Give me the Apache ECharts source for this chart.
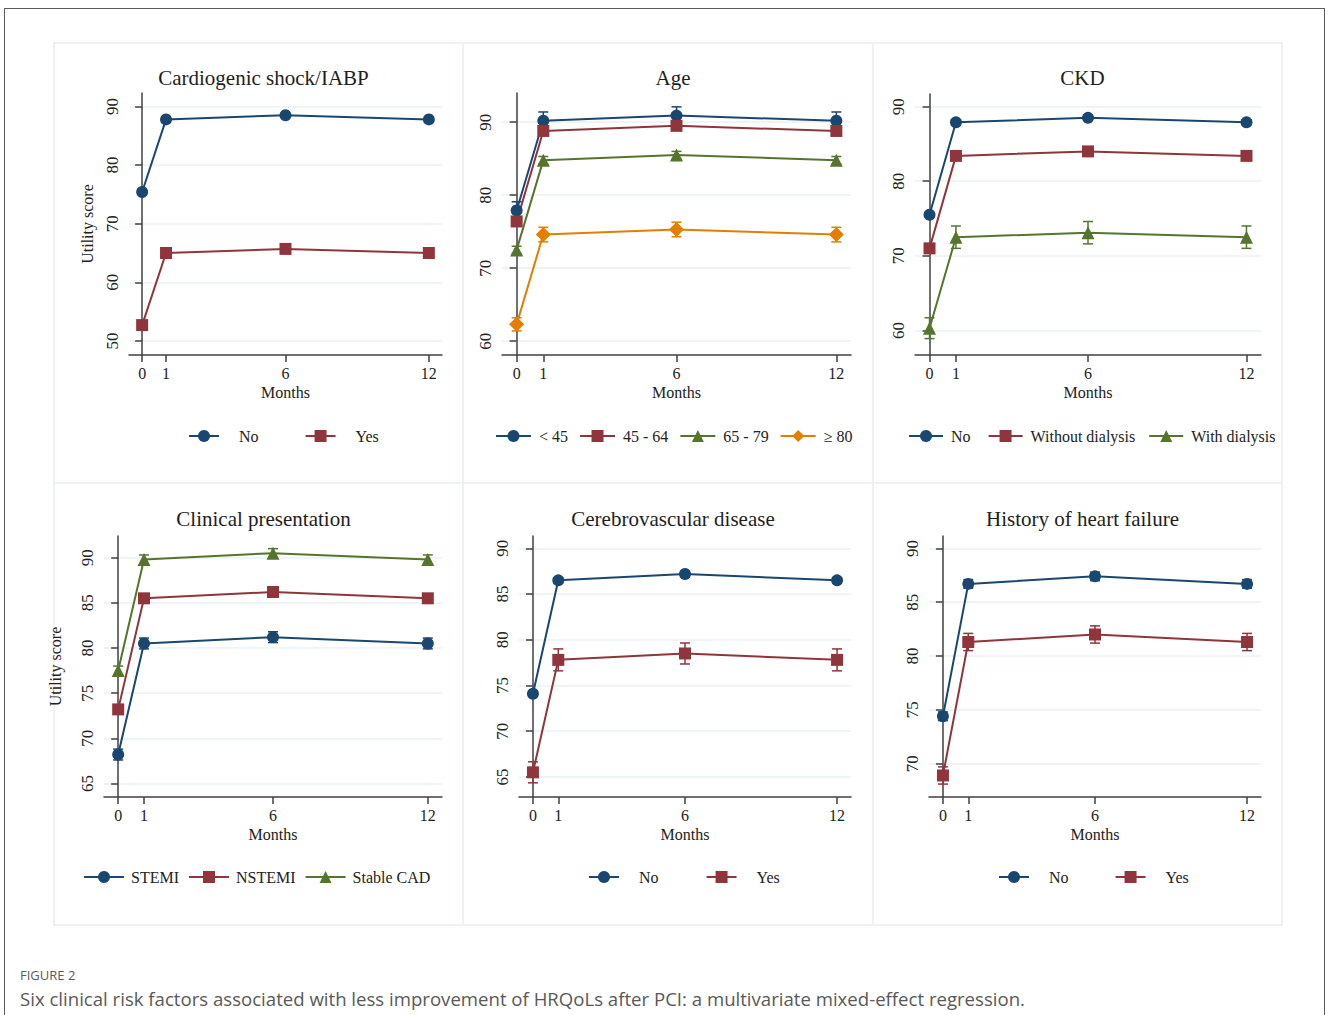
<!DOCTYPE html>
<html>
<head>
<meta charset="utf-8">
<title>Figure 2</title>
<script src="https://cdn.jsdelivr.net/npm/echarts@6/dist/echarts.min.js"></script>
<style>
  html, body { margin: 0; padding: 0; background: #fff; overflow: hidden; }
  #frame { position: absolute; left: 4px; top: 8px; width: 1321px; height: 1100px; border: 1.5px solid #5c5c5c; box-sizing: border-box; }
  #chart { position: absolute; left: 0; top: 0; width: 1328px; height: 940px; }
  #figlabel { position: absolute; left: 20px; top: 966px; font-family: "Open Sans"; font-size: 13px; color: #595959; }
  #caption { position: absolute; left: 20px; top: 986px; font-family: "Open Sans"; font-size: 18.6px; color: #595959; white-space: nowrap; }
</style>
</head>
<body>
<div id="frame"></div>
<div id="chart"></div>
<div id="figlabel">FIGURE 2</div>
<div id="caption">Six clinical risk factors associated with less improvement of HRQoLs after PCI: a multivariate mixed-effect regression.</div>
<script>
// months of follow-up
var months = [0, 1, 6, 12];

// Cardiogenic shock/IABP
var shockNo = [75.4, 87.8, 88.5, 87.8];
var shockNoErr = [0.2, 0.2, 0.2, 0.2];
var shockYes = [52.7, 65.0, 65.7, 65.0];
var shockYesErr = [0.6, 0.6, 0.6, 0.6];

// Age
var age45 = [77.9, 90.2, 90.9, 90.2];
var age45Err = [1.2, 1.2, 1.2, 1.2];
var age4564 = [76.4, 88.8, 89.5, 88.8];
var age4564Err = [0.4, 0.4, 0.4, 0.4];
var age6579 = [72.5, 84.8, 85.5, 84.8];
var age6579Err = [0.5, 0.5, 0.5, 0.5];
var age80 = [62.3, 74.6, 75.3, 74.6];
var age80Err = [0.9, 1.0, 1.0, 1.0];

// CKD
var ckdNo = [75.5, 87.9, 88.5, 87.9];
var ckdNoErr = [0.3, 0.3, 0.3, 0.3];
var ckdWithout = [71.0, 83.4, 84.0, 83.4];
var ckdWithoutErr = [0.4, 0.4, 0.4, 0.4];
var ckdWith = [60.3, 72.5, 73.1, 72.5];
var ckdWithErr = [1.4, 1.5, 1.5, 1.5];

// Clinical presentation
var stemi = [68.2, 80.5, 81.2, 80.5];
var stemiErr = [0.6, 0.6, 0.6, 0.6];
var nstemi = [73.2, 85.5, 86.2, 85.5];
var nstemiErr = [0.4, 0.4, 0.4, 0.4];
var stableCad = [77.5, 89.8, 90.5, 89.8];
var stableCadErr = [0.5, 0.5, 0.5, 0.5];

// Cerebrovascular disease
var cvdNo = [74.1, 86.5, 87.2, 86.5];
var cvdNoErr = [0.3, 0.3, 0.3, 0.3];
var cvdYes = [65.5, 77.8, 78.5, 77.8];
var cvdYesErr = [1.15, 1.2, 1.15, 1.2];

// History of heart failure
var hfNo = [74.4, 86.7, 87.4, 86.7];
var hfNoErr = [0.4, 0.4, 0.4, 0.4];
var hfYes = [68.9, 81.3, 82.0, 81.3];
var hfYesErr = [0.8, 0.8, 0.8, 0.8];

// y tick labels
var ticks10a = [50, 60, 70, 80, 90];
var ticks10b = [60, 70, 80, 90];
var ticks5a = [65, 70, 75, 80, 85, 90];
var ticks5b = [70, 75, 80, 85, 90];

// Stata s2color
var navy = "#1a476f", maroon = "#90353b", green = "#55752f", orange = "#e37e00";
var serif = "Liberation Serif";

var panels = [
  {
    title: "Cardiogenic shock/IABP", cx: 258.5, ty: 62,
    grid: { left: 129, top: 93, width: 313, height: 262 },
    ymin: 47.6, ymax: 92.3, yticks: ticks10a, yname: "Utility score", ygap: 34,
    legend: { left: 188, top: 428, w: 30, gap: 46, pad: 15 },
    groups: [
      { name: "No", color: navy, symbol: "circle", size: 12, mean: shockNo, err: shockNoErr },
      { name: "Yes", color: maroon, symbol: "rect", size: 12, mean: shockYes, err: shockYesErr },
    ],
  },
  {
    title: "Age", cx: 668, ty: 62,
    grid: { left: 502, top: 93, width: 349, height: 262 },
    ymin: 58.1, ymax: 94.0, yticks: ticks10b,
    legend: { left: 495, top: 428, w: 35, gap: 11, pad: 3 },
    groups: [
      { name: "< 45", color: navy, symbol: "circle", size: 12, mean: age45, err: age45Err },
      { name: "45 - 64", color: maroon, symbol: "rect", size: 12, mean: age4564, err: age4564Err },
      { name: "65 - 79", color: green, symbol: "triangle", size: 13, mean: age6579, err: age6579Err },
      { name: "≥ 80", color: orange, symbol: "diamond", size: 15, mean: age80, err: age80Err },
    ],
  },
  {
    title: "CKD", cx: 1077.5, ty: 62,
    grid: { left: 915, top: 94, width: 346, height: 261 },
    ymin: 56.7, ymax: 91.7, yticks: ticks10b,
    legend: { left: 908, top: 428, w: 34, gap: 13, pad: 3 },
    groups: [
      { name: "No ", color: navy, symbol: "circle", size: 12, mean: ckdNo, err: ckdNoErr },
      { name: "Without dialysis", color: maroon, symbol: "rect", size: 12, mean: ckdWithout, err: ckdWithoutErr },
      { name: "With dialysis", color: green, symbol: "triangle", size: 13, mean: ckdWith, err: ckdWithErr },
    ],
  },
  {
    title: "Clinical presentation", cx: 258.5, ty: 503,
    grid: { left: 104, top: 536, width: 338, height: 261 },
    ymin: 63.5, ymax: 92.4, yticks: ticks5a, yname: "Utility score", ygap: 41,
    legend: { left: 83, top: 869, w: 40, gap: 9, pad: 2 },
    groups: [
      { name: "STEMI", color: navy, symbol: "circle", size: 12, mean: stemi, err: stemiErr },
      { name: "NSTEMI", color: maroon, symbol: "rect", size: 12, mean: nstemi, err: nstemiErr },
      { name: "Stable CAD", color: green, symbol: "triangle", size: 13, mean: stableCad, err: stableCadErr },
    ],
  },
  {
    title: "Cerebrovascular disease", cx: 668, ty: 503,
    grid: { left: 519, top: 536, width: 332, height: 261 },
    ymin: 62.8, ymax: 91.35, yticks: ticks5a,
    legend: { left: 588, top: 869, w: 30, gap: 47, pad: 15 },
    groups: [
      { name: "No", color: navy, symbol: "circle", size: 12, mean: cvdNo, err: cvdNoErr },
      { name: "Yes", color: maroon, symbol: "rect", size: 12, mean: cvdYes, err: cvdYesErr },
    ],
  },
  {
    title: "History of heart failure", cx: 1077.5, ty: 503,
    grid: { left: 929, top: 536, width: 332, height: 261 },
    ymin: 66.9, ymax: 91.15, yticks: ticks5b,
    legend: { left: 998, top: 869, w: 30, gap: 46, pad: 15 },
    groups: [
      { name: "No", color: navy, symbol: "circle", size: 12, mean: hfNo, err: hfNoErr },
      { name: "Yes", color: maroon, symbol: "rect", size: 12, mean: hfYes, err: hfYesErr },
    ],
  },
];

// 误差棒
function errorSeries(idx, g) {
  return {
    type: "custom",
    xAxisIndex: idx,
    yAxisIndex: idx,
    silent: true,
    z: 1,
    data: months.map((m, i) => [m, g.mean[i] - g.err[i], g.mean[i] + g.err[i]]),
    encode: { x: 0, y: [1, 2] },
    renderItem: function (params, api) {
      var lo = api.coord([api.value(0), api.value(1)]);
      var hi = api.coord([api.value(0), api.value(2)]);
      var w = 5;
      var st = { stroke: g.color, lineWidth: 1.5 };
      return {
        type: "group",
        children: [
          { type: "line", shape: { x1: lo[0], y1: lo[1], x2: hi[0], y2: hi[1] }, style: st },
          { type: "line", shape: { x1: lo[0] - w, y1: lo[1], x2: lo[0] + w, y2: lo[1] }, style: st },
          { type: "line", shape: { x1: hi[0] - w, y1: hi[1], x2: hi[0] + w, y2: hi[1] }, style: st },
        ],
      };
    },
  };
}

var option = {
  animation: false,
  backgroundColor: "transparent",
  textStyle: { fontFamily: serif },
  title: [],
  grid: [],
  xAxis: [],
  yAxis: [],
  legend: [],
  series: [],
  graphic: [],
};

var axisColor = "#404040";

panels.forEach(function (p, idx) {
  // panel frame
  option.graphic.push({
    type: "rect",
    shape: { x: idx % 3 === 0 ? 54 : idx % 3 === 1 ? 463 : 873, y: idx < 3 ? 43 : 483, width: idx % 3 === 1 ? 410 : 409, height: idx < 3 ? 440 : 442 },
    style: { fill: "none", stroke: "#eef1f5", lineWidth: 2 },
    z: 0,
    silent: true,
  });
  option.title.push({
    text: p.title,
    left: p.cx,
    top: p.ty,
    textAlign: "center",
    textStyle: { fontFamily: serif, fontSize: 21, fontWeight: "normal", color: "#1e1e1e" },
  });
  option.grid.push(Object.assign({ containLabel: false }, p.grid));
  option.xAxis.push({
    type: "value",
    gridIndex: idx,
    min: -0.55,
    max: 12.55,
    name: "Months",
    nameLocation: "middle",
    nameGap: 29,
    nameTextStyle: { fontFamily: serif, fontSize: 16, color: "#222" },
    axisLine: { lineStyle: { color: axisColor, width: 1.5 } },
    axisTick: { customValues: months, length: 7, lineStyle: { color: axisColor, width: 1.5 } },
    axisLabel: { customValues: months, margin: 10, fontFamily: serif, fontSize: 16, color: "#222" },
    splitLine: { show: false },
  });
  option.yAxis.push({
    type: "value",
    gridIndex: idx,
    min: p.ymin,
    max: p.ymax,
    name: p.yname || "",
    nameLocation: "middle",
    nameGap: p.ygap || 30,
    nameRotate: 90,
    nameTextStyle: { fontFamily: serif, fontSize: 16, color: "#222" },
    axisLine: { show: true, lineStyle: { color: axisColor, width: 1.5 } },
    axisTick: { show: true, customValues: p.yticks, length: 7, lineStyle: { color: axisColor, width: 1.5 } },
    axisLabel: { customValues: p.yticks, rotate: 90, margin: 8, fontFamily: serif, fontSize: 17, color: "#222" },
    splitLine: { show: true, lineStyle: { color: "#eaf2f3", width: 1.5 } },
  });
  option.legend.push({
    left: p.legend.left,
    top: p.legend.top,
    padding: 0,
    itemWidth: p.legend.w,
    itemHeight: 15,
    itemGap: p.legend.gap,
    selectedMode: false,
    data: p.groups.map((g) => g.name),
    textStyle: { fontFamily: serif, fontSize: 16, color: "#222", padding: [0, 0, 0, p.legend.pad] },
  });
  p.groups.forEach(function (g) {
    option.series.push(errorSeries(idx, g));
  });
  p.groups.forEach(function (g) {
    option.series.push({
      name: g.name,
      type: "line",
      xAxisIndex: idx,
      yAxisIndex: idx,
      z: 2,
      data: months.map((m, i) => [m, g.mean[i]]),
      symbol: g.symbol,
      symbolSize: g.size,
      showAllSymbol: true,
      lineStyle: { color: g.color, width: 2 },
      itemStyle: { color: g.color, borderWidth: 0 },
      emphasis: { disabled: true },
    });
  });
});

var chart = echarts.init(document.getElementById("chart"), null, { renderer: "svg" });
chart.setOption(option);
</script>
</body>
</html>
